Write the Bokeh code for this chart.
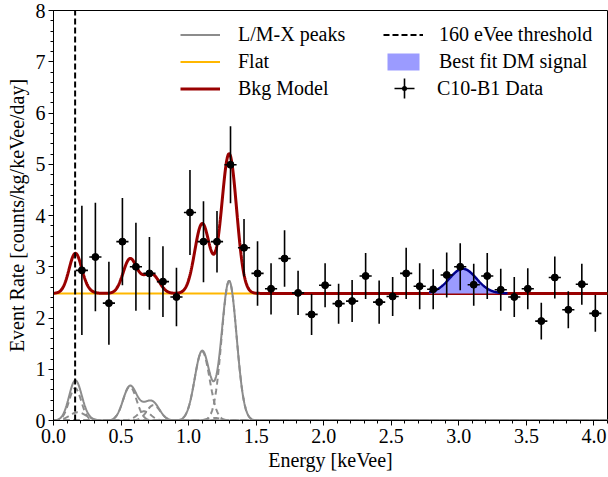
import numpy as np
from bokeh.plotting import figure
from bokeh.models import Legend, LegendItem, FixedTicker, Range1d
from bokeh.embed import file_html
from bokeh.resources import INLINE

# ---------------- data ----------------
energy = [0.21, 0.31, 0.41, 0.51, 0.61, 0.71, 0.81, 0.91, 1.01, 1.11,
          1.21, 1.31, 1.41, 1.51, 1.61, 1.71, 1.81, 1.91, 2.01, 2.11,
          2.21, 2.31, 2.41, 2.51, 2.61, 2.71, 2.81, 2.91, 3.01, 3.11,
          3.21, 3.31, 3.41, 3.51, 3.61, 3.71, 3.81, 3.91, 4.01]
rate = [2.93, 3.19, 2.29, 3.49, 3.00, 2.87, 2.71, 2.41, 4.06, 3.49,
        3.49, 4.99, 3.37, 2.87, 2.57, 3.16, 2.49, 2.07, 2.64, 2.28,
        2.33, 2.82, 2.31, 2.42, 2.87, 2.62, 2.56, 2.84, 3.00, 2.65,
        2.82, 2.55, 2.41, 2.57, 1.94, 2.79, 2.16, 2.66, 2.09]
rate_err = [1.26, 1.06, 0.81, 0.85, 0.86, 0.71, 0.69, 0.57, 0.83, 0.79,
            0.60, 0.75, 0.56, 0.63, 0.50, 0.55, 0.43, 0.40, 0.43, 0.39,
            0.41, 0.45, 0.42, 0.38, 0.50, 0.45, 0.39, 0.44, 0.46, 0.41,
            0.45, 0.41, 0.39, 0.40, 0.36, 0.41, 0.36, 0.40, 0.36]
bin_half = 0.045

flat_level = 2.48
peak_centers = [0.16, 0.18, 0.565, 0.67, 0.74, 1.10, 1.19, 1.30]
peak_amps = [0.63, 0.16, 0.66, 0.18, 0.30, 1.35, 0.05, 2.72]
peak_sigmas = [0.045, 0.06, 0.05, 0.05, 0.05, 0.055, 0.05, 0.055]

dm_center = 3.03
dm_amp = 0.48
dm_sigma = 0.10
dm_range = [2.78, 3.36]

threshold = 0.16

x_ticks = [0.0, 0.5, 1.0, 1.5, 2.0, 2.5, 3.0, 3.5, 4.0]
x_tick_labels = ["0.0", "0.5", "1.0", "1.5", "2.0", "2.5", "3.0", "3.5", "4.0"]
y_ticks = [0, 1, 2, 3, 4, 5, 6, 7, 8]
y_tick_labels = ["0", "1", "2", "3", "4", "5", "6", "7", "8"]

# ---------------- models ----------------
xg = np.linspace(0.0, 4.1, 1200)
comps = [a * np.exp(-(xg - c) ** 2 / (2 * s ** 2))
         for c, a, s in zip(peak_centers, peak_amps, peak_sigmas)]
peaks_sum = np.sum(comps, axis=0)
bkg = flat_level + peaks_sum
xd = np.linspace(dm_range[0], dm_range[1], 300)
dm_sig = dm_amp * np.exp(-(xd - dm_center) ** 2 / (2 * dm_sigma ** 2))

FONT = "Liberation Serif"
FS = "20px"

p = figure(width=608, height=477, output_backend="svg",
           toolbar_location=None, x_range=Range1d(0, 4.1), y_range=Range1d(0, 8),
           min_border_left=53, min_border_right=1, min_border_top=10,
           min_border_bottom=57)
p.xgrid.visible = False
p.ygrid.visible = False
p.outline_line_color = "black"
p.outline_line_width = 1
p.background_fill_color = "white"
p.border_fill_color = "white"

# flat
r_flat = p.line([0, 4.1], [flat_level, flat_level], color="#ffb700", line_width=2)
# peak components (dashed)
for comp in comps:
    p.line(xg, comp, color="#8c8c8c", line_width=2, line_dash="6 4")
r_peaks = p.line(xg, peaks_sum, color="#8c8c8c", line_width=2)
# background model
r_bkg = p.line(xg, bkg, color="#990000", line_width=3)
# DM signal
r_dm = p.varea(x=xd, y1=np.full_like(xd, flat_level), y2=flat_level + dm_sig,
               fill_color="#9b9bff", fill_alpha=1.0)
p.line(xd, flat_level + dm_sig, color="#00008b", line_width=2.5)
# threshold
r_thr = p.line([threshold, threshold], [0, 8], color="black", line_width=2,
               line_dash="6 3")
# data
e = np.array(energy); r = np.array(rate); er = np.array(rate_err)
p.segment(x0=e, y0=r - er, x1=e, y1=r + er, color="black", line_width=1.6)
p.segment(x0=e - bin_half, y0=r, x1=e + bin_half, y1=r, color="black", line_width=1.6)
r_pts = p.scatter(e, r, size=7, color="black")
# legend-only glyphs (size 0 on the plot; legend draws its own marker size)
r_cross = p.scatter(e, r, marker="cross", size=0, line_color="black", line_width=1.6)
r_dot = p.scatter(e, r, marker="dot", size=0, line_color="black", fill_color="black",
                  line_width=2.5)

# axes
for ax in (p.xaxis[0], p.yaxis[0]):
    ax.axis_line_color = "black"
    ax.major_tick_in = 0
    ax.major_tick_out = 5
    ax.minor_tick_in = 0
    ax.minor_tick_out = 3
    ax.major_label_text_font = FONT
    ax.major_label_text_font_size = FS
    ax.major_label_text_color = "black"
    ax.axis_label_text_font = FONT
    ax.axis_label_text_font_size = FS
    ax.axis_label_text_font_style = "normal"
    ax.axis_label_text_color = "black"
    ax.major_label_standoff = 3
p.xaxis.axis_label_standoff = 3
p.yaxis.axis_label_standoff = 5

p.xaxis.ticker = FixedTicker(ticks=x_ticks, minor_ticks=list(np.round(np.arange(0, 4.11, 0.1), 2)))
p.xaxis.major_label_overrides = dict(zip(x_ticks, x_tick_labels))
p.yaxis.ticker = FixedTicker(ticks=y_ticks, minor_ticks=list(np.round(np.arange(0, 8.01, 0.2), 2)))
p.yaxis.major_label_overrides = dict(zip(y_ticks, y_tick_labels))
p.xaxis.axis_label = "Energy [keVee]"
p.yaxis.axis_label = "Event Rate [counts/kg/keVee/day]"

def mk_legend(items, loc, gw=40, gh=21, standoff=18):
    lg = Legend(items=items, location=loc, orientation="vertical")
    lg.label_text_font = FONT
    lg.label_text_font_size = FS
    lg.label_text_color = "black"
    lg.glyph_width = gw
    lg.glyph_height = gh
    lg.label_height = 21
    lg.spacing = 4
    lg.label_standoff = standoff
    lg.padding = 0
    lg.margin = 0
    lg.border_line_alpha = 0
    lg.background_fill_alpha = 0
    return lg

leg1 = mk_legend([LegendItem(label="L/M-X peaks", renderers=[r_peaks]),
                  LegendItem(label="Flat", renderers=[r_flat]),
                  LegendItem(label="Bkg Model", renderers=[r_bkg])], (127, 320))
leg2 = mk_legend([LegendItem(label="160 eVee threshold", renderers=[r_thr]),
                  LegendItem(label="Best fit DM signal", renderers=[r_dm])], (330, 347), standoff=16)
leg3 = mk_legend([LegendItem(label="C10-B1 Data", renderers=[r_cross, r_dot])],
                 (326, 307), gw=50, gh=50, standoff=8)
p.add_layout(leg1)
p.add_layout(leg2)
p.add_layout(leg3)

open("out.html", "w").write(file_html(p, INLINE))
